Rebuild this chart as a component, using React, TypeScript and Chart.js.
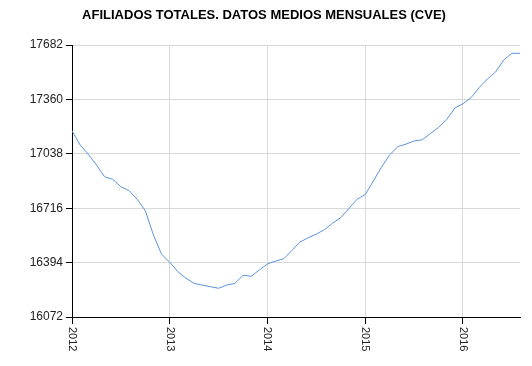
import React, { useEffect, useRef } from "react";
import { Chart, registerables } from "chart.js";

Chart.register(...registerables);

const TITLE = "AFILIADOS TOTALES. DATOS MEDIOS MENSUALES (CVE)";

// Monthly values, Jan 2012 .. Aug 2016
const afiliados: number[] = [
  17175, 17090, 17035, 16972, 16902, 16887, 16843, 16820, 16769, 16701, 16557, 16443,
  16396, 16340, 16301, 16271, 16261, 16251, 16242, 16261, 16271, 16319, 16313, 16350,
  16386, 16403, 16417, 16466, 16516, 16541, 16563, 16589, 16628, 16660, 16715, 16769,
  16797, 16877, 16960, 17031, 17081, 17095, 17114, 17121, 17158, 17194, 17241, 17309,
  17334, 17371, 17430, 17481, 17522, 17593, 17633, 17633,
];

const yearLabels: string[] = ["2012", "2013", "2014", "2015", "2016"];
const yearTickMonths: number[] = [0, 12, 24, 36, 48];
const yTicks: number[] = [16072, 16394, 16716, 17038, 17360, 17682];

const FONT = "'Liberation Sans', Arial, sans-serif";

export default function App() {
  const ref = useRef<HTMLCanvasElement | null>(null);

  useEffect(() => {
    const canvas = ref.current;
    if (!canvas) return;

    const decor = {
      id: "decor",
      afterDraw(chart: any) {
        const ctx = chart.ctx;
        const area = chart.chartArea;
        ctx.save();
        // title
        ctx.fillStyle = "#000";
        ctx.font = `bold 13px ${FONT}`;
        ctx.textAlign = "center";
        ctx.textBaseline = "middle";
        ctx.fillText(TITLE, 264, 15);
        // rotated x labels (reading top to bottom)
        const xs = chart.scales.x;
        ctx.font = `11px ${FONT}`;
        ctx.fillStyle = "#222";
        xs.ticks.forEach((t: any, i: number) => {
          const px = xs.getPixelForValue(t.value);
          ctx.save();
          ctx.translate(px, area.bottom + 10);
          ctx.rotate(Math.PI / 2);
          ctx.textAlign = "left";
          ctx.textBaseline = "middle";
          ctx.fillText(yearLabels[i] ?? "", 0, 0);
          ctx.restore();
        });
        ctx.restore();
      },
    };

    const chart = new Chart(canvas, {
      type: "line",
      data: {
        datasets: [
          {
            data: afiliados.map((v, i) => ({ x: i, y: v })),
            borderColor: "#5b93dc",
            borderWidth: 1,
            pointRadius: 0,
            tension: 0,
            fill: false,
          },
        ],
      },
      options: {
        responsive: false,
        animation: false,
        devicePixelRatio: 1,
        layout: { padding: { top: 45, right: 12, left: 0, bottom: 0 } },
        plugins: {
          legend: { display: false },
          title: { display: false },
          tooltip: { enabled: false },
        },
        scales: {
          x: {
            type: "linear",
            min: 0,
            max: afiliados.length - 1,
            afterBuildTicks: (scale: any) => {
              scale.ticks = yearTickMonths.map((v) => ({ value: v }));
            },
            afterFit: (scale: any) => {
              scale.height = 49;
            },
            ticks: { display: false },
            grid: {
              color: "#d9d9d9",
              tickColor: "#000",
              tickLength: 7,
              lineWidth: 1,
            },
            border: { color: "#000", width: 1 },
          },
          y: {
            type: "linear",
            min: yTicks[0],
            max: yTicks[yTicks.length - 1],
            afterBuildTicks: (scale: any) => {
              scale.ticks = yTicks.map((v) => ({ value: v }));
            },
            afterFit: (scale: any) => {
              scale.width = 72;
            },
            ticks: {
              font: { family: FONT, size: 12 },
              color: "#222",
              padding: 3,
              callback: (v: any) => String(v),
            },
            grid: {
              color: "#d9d9d9",
              tickColor: "#000",
              tickLength: 6,
              lineWidth: 1,
            },
            border: { color: "#000", width: 1 },
          },
        },
      },
      plugins: [decor],
    });

    return () => chart.destroy();
  }, []);

  return (
    <div style={{ position: "absolute", left: 0, top: 0, width: 532, height: 366, background: "#fff" }}>
      <canvas ref={ref} width={532} height={366} />
    </div>
  );
}
